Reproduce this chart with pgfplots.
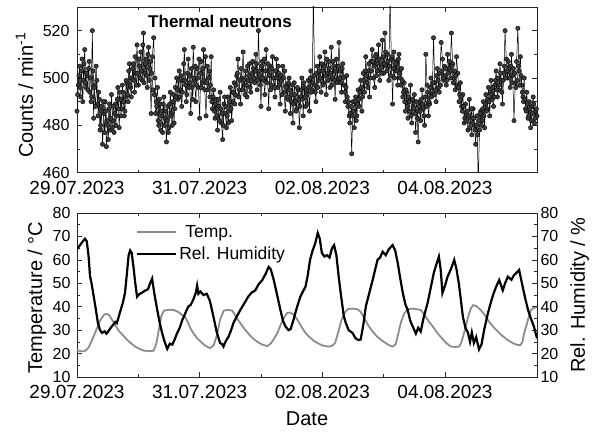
\documentclass[border=0pt]{standalone}
\usepackage{fontspec}
\setmainfont{Liberation Sans}
\usepackage{pgfplots}
\pgfplotsset{compat=1.18}
\definecolor{tempgray}{RGB}{140,140,140}
\definecolor{markgray}{RGB}{60,60,60}

\pgfplotsset{
  datebase/.style={
    scale only axis, width=460pt,
    xmin=0, xmax=180,
    xtick={0,48,96,144},
    xticklabels={29.07.2023,31.07.2023,02.08.2023,04.08.2023},
    minor x tick num=1,
    axis line style={line width=0.8pt, black!85},
    every tick/.style={black!85, line width=0.7pt},
    major tick length=5pt, minor tick length=3pt,
    xticklabel style={font=\fontsize{19}{21}\selectfont, yshift=-5pt},
    yticklabel style={font=\fontsize{16}{18}\selectfont},
    /pgf/number format/assume math mode=true,
    label style={font=\fontsize{20}{23}\selectfont},
  },
  countstyle/.style={black, line width=0.5pt, mark=*, mark size=2.2pt,
    mark options={fill=markgray, draw=black, line width=0.4pt}},
}

\begin{document}
\begin{tikzpicture}
% counts panel (x in hours from 29.07.2023 00:00)
\begin{axis}[datebase, at={(77pt,263.3pt)}, anchor=south west, height=165.7pt,
  ymin=460, ymax=530, ytick={460,480,500,520}, minor y tick num=1,
  yticklabel style={xshift=-4pt},
  ylabel={Counts / min\textsuperscript{-1}},
  ylabel style={at={(axis description cs:-0.0957,0.467)}, anchor=base},
]
\addplot[countstyle] coordinates {
(0,486) (0.5,497) (1,505) (1.5,492) (2,508) (2.5,499) (3,512) (3.5,496) (4,501) (4.5,504) (5,494) (5.5,490)
(6,520) (6.5,483) (7,497) (7.5,505) (8,489) (8.5,494) (9,478) (9.5,488) (10,472) (10.5,485) (11,490) (11.5,471)
(12,480) (12.5,487) (13,478) (13.5,493) (14,482) (14.5,477) (15,489) (15.5,484) (16,496) (16.5,479) (17,491) (17.5,487)
(18,494) (18.5,484) (19,492) (19.5,498) (20,490) (20.5,506) (21,496) (21.5,500) (22,506) (22.5,494) (23,502) (23.5,514)
(24,497) (24.5,505) (25,511) (25.5,499) (26,519) (26.5,502) (27,508) (27.5,496) (28,513) (28.5,504) (29,485) (29.5,509)
(30,517) (30.5,500) (31,490) (31.5,496) (32,480) (32.5,489) (33,486) (33.5,477) (34,492) (34.5,483) (35,473) (35.5,488)
(36,479) (36.5,494) (37,485) (37.5,490) (38,481) (38.5,496) (39,500) (39.5,491) (40,503) (40.5,495) (41,488) (41.5,499)
(42,512) (42.5,497) (43,493) (43.5,508) (44,501) (44.5,485) (45,496) (45.5,513) (46,499) (46.5,490) (47,504) (47.5,496)
(48,483) (48.5,507) (49,498) (49.5,512) (50,495) (50.5,484) (51,505) (51.5,500) (52,492) (52.5,509) (53,487) (53.5,495)
(54,483) (54.5,491) (55,478) (55.5,488) (56,494) (56.5,481) (57,474) (57.5,489) (58,485) (58.5,479) (59,492) (59.5,486)
(60,496) (60.5,482) (61,490) (61.5,498) (62,493) (62.5,501) (63,508) (63.5,495) (64,489) (64.5,500) (65,511) (65.5,497)
(66,503) (66.5,492) (67,499) (67.5,506) (68,494) (68.5,502) (69,504) (69.5,498) (70,510) (70.5,495) (71,520) (71.5,501)
(72,488) (72.5,507) (73,499) (73.5,493) (74,512) (74.5,503) (75,487) (75.5,505) (76,497) (76.5,509) (77,500) (77.5,492)
(78,508) (78.5,496) (79,502) (79.5,489) (80,499) (80.5,505) (81,494) (81.5,486) (82,497) (82.5,491) (83,500) (83.5,485)
(84,493) (84.5,481) (85,498) (85.5,490) (86,487) (86.5,495) (87,479) (87.5,492) (88,500) (88.5,484) (89,496) (89.5,488)
(90,493) (90.5,499) (91,486) (91.5,503) (92,495) (92.5,535) (93,497) (93.5,490) (94,505) (94.5,499) (95,509) (95.5,494)
(96,503) (96.5,498) (97,511) (97.5,493) (98,502) (98.5,507) (99,496) (99.5,513) (100,500) (100.5,505) (101,491) (101.5,508)
(102,499) (102.5,515) (103,503) (103.5,494) (104,506) (104.5,497) (105,490) (105.5,501) (106,488) (106.5,484) (107,485) (107.5,468)
(108,490) (108.5,479) (109,492) (109.5,484) (110,495) (110.5,488) (111,499) (111.5,486) (112,502) (112.5,494) (113,509) (113.5,498)
(114,503) (114.5,492) (115,507) (115.5,512) (116,500) (116.5,496) (117,510) (117.5,503) (118,514) (118.5,499) (119,506) (119.5,516)
(120,502) (120.5,519) (121,505) (121.5,510) (122,499) (122.5,536) (123,508) (123.5,489) (124,511) (124.5,503) (125,507) (125.5,497)
(126,510) (126.5,500) (127,504) (127.5,492) (128,498) (128.5,486) (129,494) (129.5,483) (130,490) (130.5,497) (131,481) (131.5,488)
(132,493) (132.5,477) (133,486) (133.5,473) (134,490) (134.5,482) (135,495) (135.5,487) (136,480) (136.5,510) (137,497) (137.5,484)
(138,489) (138.5,500) (139,493) (139.5,517) (140,498) (140.5,490) (141,504) (141.5,496) (142,502) (142.5,515) (143,508) (143.5,499)
(144,501) (144.5,497) (145,510) (145.5,504) (146,503) (146.5,519) (147,506) (147.5,500) (148,495) (148.5,509) (149,502) (149.5,490)
(150,498) (150.5,488) (151,493) (151.5,481) (152,489) (152.5,485) (153,478) (153.5,491) (154,483) (154.5,476) (155,487) (155.5,480)
(156,472) (156.5,484) (157,455) (157.5,478) (158,486) (158.5,482) (159,490) (159.5,479) (160,493) (160.5,487) (161,496) (161.5,484)
(162,499) (162.5,491) (163,488) (163.5,497) (164,503) (164.5,492) (165,495) (165.5,506) (166,499) (166.5,489) (167,502) (167.5,520)
(168,508) (168.5,500) (169,504) (169.5,496) (170,510) (170.5,501) (171,482) (171.5,498) (172,507) (172.5,521) (173,503) (173.5,509)
(174,497) (174.5,492) (175,500) (175.5,487) (176,494) (176.5,483) (177,490) (177.5,479) (178,488) (178.5,492) (179,481) (179.5,486)
(180,484)
};
\addplot[countstyle] coordinates {
(0.25,493) (0.75,501) (1.25,496) (1.75,503) (2.25,490) (2.75,506) (3.25,498) (3.75,502) (4.25,495) (4.75,507) (5.25,500) (5.75,492)
(6.25,503) (6.75,496) (7.25,488) (7.75,499) (8.25,484) (8.75,491) (9.25,480) (9.75,486) (10.25,490) (10.75,477) (11.25,486) (11.75,482)
(12.25,474) (12.75,489) (13.25,483) (13.75,479) (14.25,488) (14.75,485) (15.25,480) (15.75,491) (16.25,487) (16.75,494) (17.25,484) (17.75,497)
(18.25,490) (18.75,486) (19.25,499) (19.75,493) (20.25,503) (20.75,497) (21.25,492) (21.75,504) (22.25,499) (22.75,509) (23.25,497) (23.75,502)
(24.25,508) (24.75,500) (25.25,503) (25.75,514) (26.25,498) (26.75,506) (27.25,501) (27.75,510) (28.25,499) (28.75,507) (29.25,502) (29.75,495)
(30.25,493) (30.75,485) (31.25,488) (31.75,482) (32.25,491) (32.75,478) (33.25,484) (33.75,489) (34.25,480) (34.75,486) (35.25,482) (35.75,477)
(36.25,489) (36.75,484) (37.25,480) (37.75,493) (38.25,487) (38.75,492) (39.25,495) (39.75,499) (40.25,492) (40.75,501) (41.25,494) (41.75,506)
(42.25,499) (42.75,490) (43.25,502) (43.75,496) (44.25,498) (44.75,504) (45.25,491) (45.75,500) (46.25,505) (46.75,497) (47.25,500) (47.75,508)
(48.25,502) (48.75,496) (49.25,504) (49.75,499) (50.25,509) (50.75,498) (51.25,495) (51.75,503) (52.25,497) (52.75,490) (53.25,492) (53.75,486)
(54.25,489) (54.75,484) (55.25,491) (55.75,482) (56.25,487) (56.75,485) (57.25,480) (57.75,492) (58.25,488) (58.75,484) (59.25,481) (59.75,490)
(60.25,487) (60.75,494) (61.25,494) (61.75,489) (62.25,497) (62.75,502) (63.25,492) (63.75,499) (64.25,504) (64.75,495) (65.25,499) (65.75,493)
(66.25,497) (66.75,505) (67.25,501) (67.75,496) (68.25,499) (68.75,507) (69.25,500) (69.75,503) (70.25,506) (70.75,499) (71.25,503) (71.75,497)
(72.25,505) (72.75,500) (73.25,508) (73.75,503) (74.25,498) (74.75,506) (75.25,501) (75.75,495) (76.25,504) (76.75,500) (77.25,496) (77.75,503)
(78.25,500) (78.75,505) (79.25,497) (79.75,501) (80.25,493) (80.75,500) (81.25,503) (81.75,496) (82.25,492) (82.75,498) (83.25,495) (83.75,490)
(84.25,497) (84.75,489) (85.25,493) (85.75,486) (86.25,496) (86.75,491) (87.25,488) (87.75,495) (88.25,491) (88.75,498) (89.25,492) (89.75,495)
(90.25,489) (90.75,496) (91.25,500) (91.75,494) (92.25,498) (92.75,501) (93.25,494) (93.75,502) (94.25,496) (94.75,503) (95.25,500) (95.75,506)
(96.25,497) (96.75,505) (97.25,501) (97.75,508) (98.25,499) (98.75,504) (99.25,502) (99.75,497) (100.25,507) (100.75,499) (101.25,503) (101.75,498)
(102.25,505) (102.75,500) (103.25,498) (103.75,504) (104.25,500) (104.75,494) (105.25,496) (105.75,492) (106.25,490) (106.75,481) (107.25,488) (107.75,484)
(108.25,486) (108.75,490) (109.25,482) (109.75,489) (110.25,491) (110.75,494) (111.25,496) (111.75,492) (112.25,499) (112.75,503) (113.25,501) (113.75,496)
(114.25,506) (114.75,500) (115.25,503) (115.75,507) (116.25,505) (116.75,509) (117.25,501) (117.75,506) (118.25,508) (118.75,504) (119.25,502) (119.75,509)
(120.25,506) (120.75,511) (121.25,503) (121.75,507) (122.25,505) (122.75,501) (123.25,509) (123.75,504) (124.25,500) (124.75,506) (125.25,503) (125.75,508)
(126.25,502) (126.75,497) (127.25,499) (127.75,494) (128.25,490) (128.75,495) (129.25,488) (129.75,492) (130.25,486) (130.75,484) (131.25,491) (131.75,487)
(132.25,485) (132.75,490) (133.25,483) (133.75,488) (134.25,486) (134.75,491) (135.25,489) (135.75,484) (136.25,492) (136.75,488) (137.25,494) (137.75,490)
(138.25,496) (138.75,492) (139.25,498) (139.75,493) (140.25,495) (140.75,501) (141.25,499) (141.75,494) (142.25,497) (142.75,503) (143.25,500) (143.75,505)
(144.25,504) (144.75,499) (145.25,502) (145.75,507) (146.25,500) (146.75,505) (147.25,498) (147.75,503) (148.25,501) (148.75,497) (149.25,496) (149.75,493)
(150.25,492) (150.75,486) (151.25,488) (151.75,483) (152.25,482) (152.75,486) (153.25,484) (153.75,479) (154.25,487) (154.75,481) (155.25,483) (155.75,478)
(156.25,480) (156.75,476) (157.25,482) (157.75,485) (158.25,480) (158.75,487) (159.25,484) (159.75,489) (160.25,486) (160.75,491) (161.25,490) (161.75,494)
(162.25,493) (162.75,496) (163.25,492) (163.75,499) (164.25,495) (164.75,500) (165.25,497) (165.75,502) (166.25,494) (166.75,499) (167.25,505) (167.75,500)
(168.25,503) (168.75,507) (169.25,500) (169.75,505) (170.25,498) (170.75,504) (171.25,502) (171.75,496) (172.25,499) (172.75,505) (173.25,497) (173.75,501)
(174.25,494) (174.75,490) (175.25,491) (175.75,486) (176.25,489) (176.75,484) (177.25,487) (177.75,482) (178.25,485) (178.75,489) (179.25,483) (179.75,487)
};
\node[anchor=west, inner sep=0pt, font=\bfseries\fontsize{17}{19}\selectfont]
  at (axis cs:27.8,523.7) {Thermal neutrons};
\end{axis}

% temperature panel
\begin{axis}[datebase, at={(77pt,59pt)}, anchor=south west, height=164pt,
  ymin=10, ymax=80, ytick={10,20,...,80}, minor y tick num=1,
  yticklabel style={xshift=-3pt},
  ylabel={Temperature / °C},
  ylabel style={at={(axis description cs:-0.076,0.485)}, anchor=base},
  xlabel={Date},
  xlabel style={at={(axis description cs:0.5,-0.293)}, anchor=base},
]
\addplot[color=tempgray, line width=1.8pt] coordinates {
(0,21.5) (1.5,21) (3,21) (4.5,22.5) (6,26) (7.5,30) (9,34) (10.5,36.5) (11.5,37) (12.5,36.5)
(14,34) (15,32) (16.5,29.5) (18,27.8) (19.5,26) (21,24.5) (22.7,23) (24.5,22) (26,21.3) (28,21)
(30,21.2) (31,24) (32,30) (33,36) (34,38.3) (36,38.7) (38,38.6) (40,37.5) (41,36.5) (42.3,35.7)
(43.5,33) (44.5,30.5) (45.5,28.8) (47,26.5) (48.5,25) (50,23.5) (52,22.3) (53.5,23.5) (54.8,28) (56,34.5)
(57.4,38.3) (59,38.7) (60.8,38.3) (62.3,35.5) (63.9,33) (65.5,30.5) (67.5,28) (69,26.3) (70.6,25) (72.5,23.8)
(74.5,23.2) (76,24.5) (77.2,26.5) (78.4,28.8) (79.6,32) (80.8,35) (82.3,37.4) (83.5,37.5) (84.8,36.5) (86.2,34.5)
(87.8,31.5) (89.4,28.8) (91,27) (92.6,25.5) (94.4,24.3) (96,23.5) (97.5,23.1) (99,23) (100,23.5) (101,24.5)
(102.2,29) (103.4,34) (104.8,37.5) (106,39) (108,39.2) (110,38.8) (111,37.8) (112.5,35) (114,32) (115.6,29.5)
(117.2,27.5) (119,25.8) (120.8,24.5) (122.2,23.5) (123.5,23) (124.7,24) (125.7,28.5) (126.8,33.5) (128,37) (129.4,39)
(131.5,39.2) (133.7,38.8) (134.5,38.6) (136,36.5) (137.8,33.5) (139.6,31) (141.2,28.5) (142.8,26.5) (144.5,24.5) (146.3,23)
(148,22.8) (149.5,23) (150.3,24.5) (151,27) (152,31) (153,35.5) (154,39) (155,40.7) (156.2,40.3) (158,38.6)
(159.5,36.5) (161,34) (162.8,31.5) (164.7,29.4) (166.5,27.5) (168.5,25.8) (170.5,24.5) (172.5,23.6) (173.5,23.6) (174.3,25)
(175,28.8) (176,32.5) (177,36.5) (177.6,38.6) (178.8,39.5) (180,40)
};
\end{axis}

% relative humidity on the right axis
\begin{axis}[datebase, at={(77pt,59pt)}, anchor=south west, height=164pt,
  axis y line*=right, axis x line=none,
  ymin=10, ymax=80, ytick={10,20,...,80}, minor y tick num=1,
  ylabel={Rel. Humidity / \%},
  ylabel style={at={(axis description cs:1.104,0.5)}, anchor=base},
  legend style={draw=none, fill=none, at={(axis description cs:0.128,0.94)},
    anchor=north west, font=\fontsize{17.5}{20}\selectfont, row sep=4pt,
    inner sep=0pt, nodes={inner sep=2pt}},
  legend cell align=left,
  legend image code/.code={\draw[#1] (0pt,0pt) -- (39pt,0pt);},
]
\addlegendimage{color=tempgray, line width=1.8pt}
\addlegendentry{\hspace*{6pt}Temp.}
\addplot[black, line width=2.2pt] coordinates {
(0,64.5) (1,66) (2,67.5) (3.1,69) (3.8,68) (4.5,62) (5.1,53) (5.7,50) (6.3,46) (7.2,40)
(8.2,33) (9,30) (9.8,28.8) (10.8,29.5) (11.5,28.5) (12.2,29.4) (13.2,31) (14.1,32.2) (15,33.5) (15.6,33)
(16,34.5) (16.8,37.5) (18,42) (18.8,46) (19.6,55) (20.2,62) (20.8,64) (21.4,63) (22.1,57) (22.8,50)
(23.5,44.3) (24.5,45.5) (25.5,46) (26.5,46.8) (27.8,47.5) (28.6,50) (29.4,52) (30.2,46) (31.4,38.6) (32.3,33.5)
(33.3,28.8) (34.3,25) (35.3,22) (36.3,24.2) (37.3,23.8) (38.2,26) (39.2,28.8) (40.2,31) (41.2,34.3) (42.3,37)
(43.5,40) (44.5,40.8) (45.5,43) (46.5,46) (47,49) (47.5,45.5) (48.3,46.5) (49.5,45) (50.8,45.5) (52,42.5)
(53.4,35.7) (54.7,29) (56,24.5) (56.8,24) (57.3,23) (58.3,25.5) (59.3,27.2) (60.3,30) (61.2,33) (62.6,36)
(63.9,38.6) (65.5,41.5) (67,44.3) (68.3,46) (69.8,47) (71,49.5) (72.5,51.4) (73.8,54) (75,57) (75.8,56)
(77,51.4) (78.3,45) (79.6,38.6) (80.6,34) (81.6,31.5) (82.8,30) (83.6,30.5) (84.7,34.3) (86,39.5) (87.4,44.3)
(88.4,46.5) (89.4,48.5) (90.2,52.8) (91.2,60) (92.2,64) (93.2,67) (94.2,71.5) (95,69) (95.8,63) (96.8,61.4)
(97.8,62) (98.8,61) (99.8,65) (100.6,66.3) (101.5,62) (102.4,52.8) (103.4,44) (104.4,36) (105.2,33) (106.3,30)
(107.8,28.8) (109,26.5) (110.2,25.8) (111,26) (112,32) (113,40) (114.4,46) (115.7,51.4) (116.7,56) (117.6,60)
(118.6,61) (119.6,63.5) (120.8,62) (122,64.5) (123.5,66.3) (124.5,64) (125.5,58.7) (126.5,52) (127.5,45.8) (128.5,41)
(129.4,38.6) (130.4,34) (131.4,31.5) (132.6,28.5) (133.5,31) (134.5,29.4) (135.7,35.7) (137.2,41.6) (138.4,48) (139.6,54.4)
(140.6,58) (141.6,61.4) (142.3,56) (143,45.8) (144,49) (145,52.8) (146.3,56) (147.6,60) (148.5,56) (149.4,50)
(150.2,43) (151,35.7) (152,31) (153,28.8) (153.8,25) (154.5,29) (155.3,24.5) (156.2,27) (157.3,21.8) (158.3,24)
(159.3,30) (160.8,37.3) (162,42) (162.8,45) (164,48.5) (165.2,51.4) (166.6,47) (167.5,50) (168.6,52.8) (170,51.5)
(171,53.5) (172,54.5) (173,55.7) (174.4,48.5) (175.5,43) (176.5,38.6) (177.6,35) (178.8,31.5) (180,26.5)
};
\addlegendentry{Rel. Humidity}
\end{axis}
\pgfresetboundingbox
\useasboundingbox (0,0) rectangle (596pt,436pt);
\end{tikzpicture}
\end{document}
